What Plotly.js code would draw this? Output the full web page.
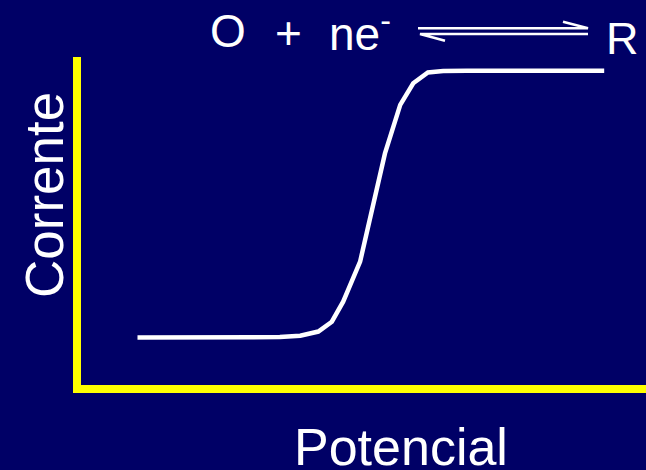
<!DOCTYPE html>
<html>
<head>
<meta charset="utf-8">
<script src="https://cdn.plot.ly/plotly-3.0.1.min.js"></script>
<style>html,body{margin:0;padding:0;background:#000066;}#chart{width:646px;height:470px;}</style>
</head>
<body>
<div id="chart"></div>
<script>
// Data (arbitrary units)
var potencial = [10, 21, 35.2, 38.8, 42, 44.4, 46.4, 49.4, 51.5, 53.8, 56.5, 58.8, 61.4, 64.1, 68.3, 92.6];
var corrente  = [14.5, 14.5, 14.6, 15.0, 16.3, 19.3, 25.4, 37.6, 53.9, 70.6, 85.4, 92.0, 95.3, 95.7, 95.8, 95.8];
var xLabel = "Potencial";
var yLabel = "Corrente";
var eqLeft = ["O", "+", "ne<sup>-</sup>"];
var eqRight = "R";

var W = 646, H = 470;
function fx(px){ return px / W; }
function fy(py){ return 1 - py / H; }

var white = "#ffffff";
var font = "Liberation Sans, Arial, sans-serif";

var trace = {
  x: potencial, y: corrente, type: "scatter", mode: "lines",
  line: {color: white, width: 4.5, shape: "linear"},
  hoverinfo: "skip"
};

var axBase = {showgrid: false, zeroline: false, showticklabels: false, ticks: "",
  showline: true, linecolor: "#ffff00", linewidth: 8, fixedrange: true};

var layout = {
  width: W, height: H,
  margin: {l: 0, r: 0, t: 0, b: 0, pad: 0},
  paper_bgcolor: "#000066", plot_bgcolor: "#000066",
  showlegend: false,
  xaxis: Object.assign({}, axBase, {domain: [fx(81), 1], range: [0, 100]}),
  yaxis: Object.assign({}, axBase, {domain: [fy(385), fy(57)], range: [0, 100]}),
  annotations: [
    {text: yLabel, xref: "paper", yref: "paper", x: fx(44), y: fy(195), textangle: -90,
     showarrow: false, xanchor: "center", yanchor: "middle", font: {family: font, size: 53, color: white}},
    {text: xLabel, xref: "paper", yref: "paper", x: fx(401), y: fy(447),
     showarrow: false, xanchor: "center", yanchor: "middle", font: {family: font, size: 52, color: white}},
    {text: eqLeft[0], xref: "paper", yref: "paper", x: fx(227.5), y: fy(31),
     showarrow: false, xanchor: "center", yanchor: "middle", font: {family: font, size: 46, color: white}},
    {text: eqLeft[1], xref: "paper", yref: "paper", x: fx(288), y: fy(33),
     showarrow: false, xanchor: "center", yanchor: "middle", font: {family: font, size: 46, color: white}},
    {text: eqLeft[2], xref: "paper", yref: "paper", x: fx(360), y: fy(31),
     showarrow: false, xanchor: "center", yanchor: "middle", font: {family: font, size: 46, color: white}},
    {text: eqRight, xref: "paper", yref: "paper", x: fx(622), y: fy(38),
     showarrow: false, xanchor: "center", yanchor: "middle", font: {family: font, size: 45, color: white}}
  ],
  shapes: [
    {type: "path", xref: "paper", yref: "paper",
     path: "M" + fx(418) + "," + fy(28.3) + " L" + fx(588) + "," + fy(28.3) + " L" + fx(563) + "," + fy(21.7),
     line: {color: white, width: 2.5}},
    {type: "path", xref: "paper", yref: "paper",
     path: "M" + fx(588) + "," + fy(34) + " L" + fx(420) + "," + fy(34) + " L" + fx(445) + "," + fy(40.7),
     line: {color: white, width: 2.5}}
  ]
};

Plotly.newPlot("chart", [trace], layout, {displayModeBar: false, staticPlot: true});
</script>
</body>
</html>
